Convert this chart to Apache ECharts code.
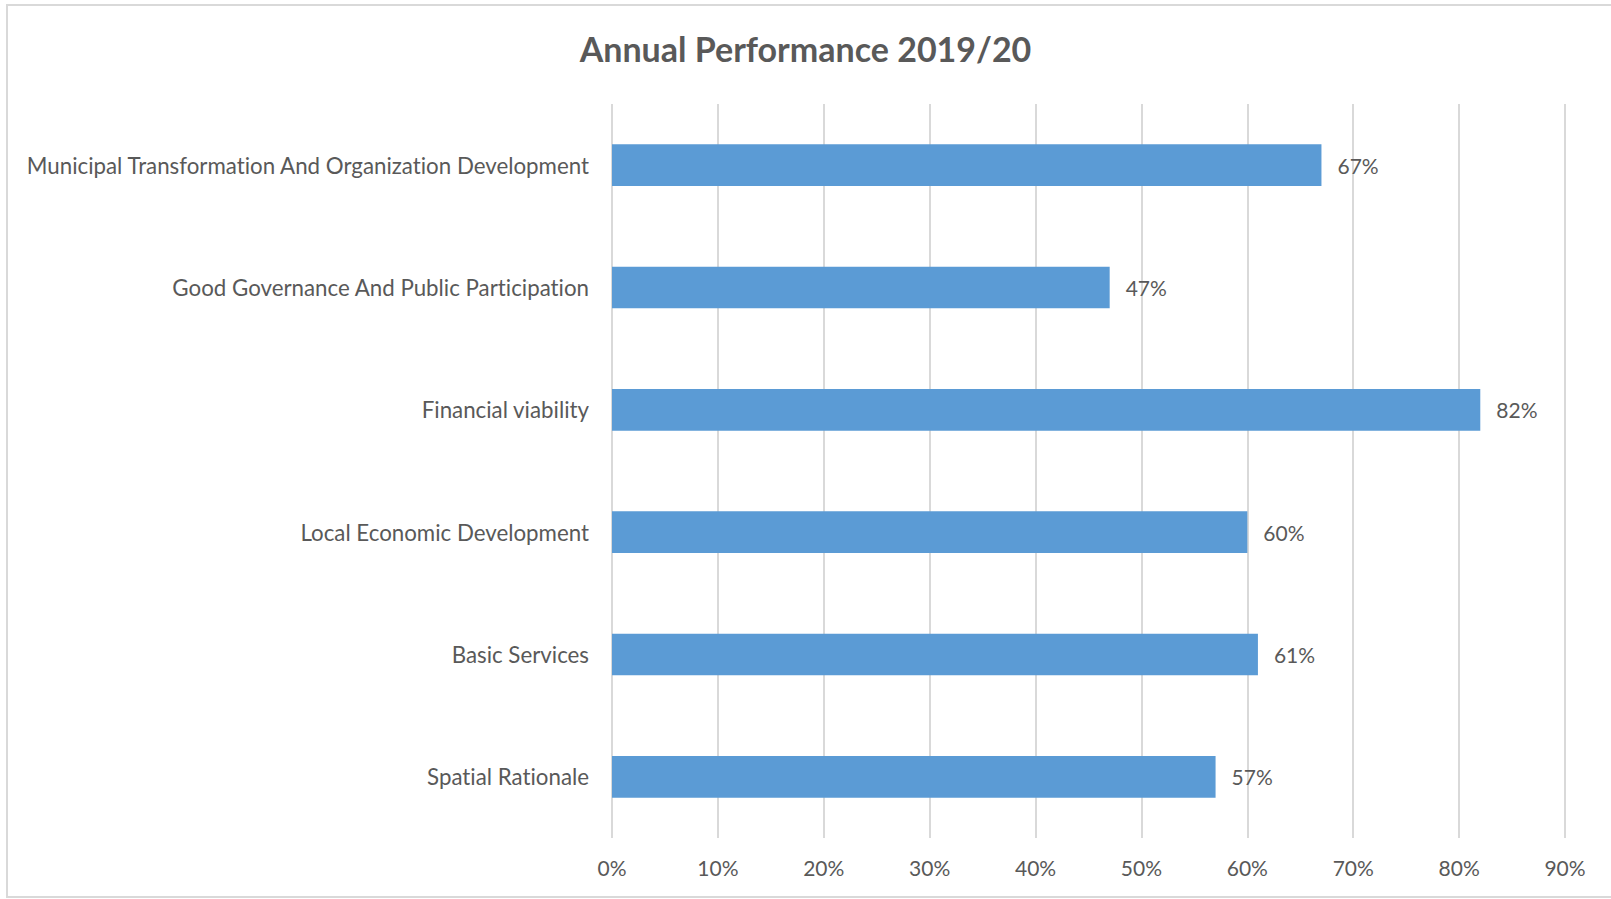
<!DOCTYPE html>
<html>
<head>
<meta charset="utf-8">
<script src="https://cdn.jsdelivr.net/npm/echarts@6/dist/echarts.min.js"></script>
<style>
  html, body { margin: 0; padding: 0; background: #fff; }
  #chart { width: 1611px; height: 899px; }
  #chart text { font-variant-ligatures: none; }
</style>
</head>
<body>
<div id="chart"></div>
<script>
// Key performance areas, listed top to bottom
const categories = [
  'Municipal Transformation And Organization Development',
  'Good Governance And Public Participation',
  'Financial viability',
  'Local Economic Development',
  'Basic Services',
  'Spatial Rationale'
];
// Achievement per area, in percent
const performance = [67, 47, 82, 60, 61, 57];
// Percentage axis
const axisMin = 0;
const axisMax = 90;
const axisStep = 10;

const textColor = '#595959';
const font = 'Lato';

const chart = echarts.init(document.getElementById('chart'), null, { renderer: 'svg' });
chart.setOption({
  backgroundColor: '#ffffff',
  animation: false,
  textStyle: { fontFamily: font },
  title: {
    text: 'Annual Performance 2019/20',
    left: 'center',
    top: 26,
    textStyle: { fontFamily: font, fontSize: 34, fontWeight: 'bold', color: textColor }
  },
  graphic: [{
    type: 'rect',
    shape: { x: 7, y: 5, width: 1620, height: 892 },
    style: { fill: 'none', stroke: '#d9d9d9', lineWidth: 2 },
    silent: true,
    z: -1
  }],
  grid: { left: 612, right: 46, top: 104, bottom: 61, containLabel: false },
  xAxis: {
    type: 'value',
    min: axisMin,
    max: axisMax,
    interval: axisStep,
    axisLine: { show: false },
    axisTick: { show: false },
    axisLabel: {
      formatter: '{value}%',
      color: textColor,
      fontSize: 21,
      fontFamily: font,
      margin: 19
    },
    splitLine: { show: true, lineStyle: { color: '#d9d9d9', width: 2 } }
  },
  yAxis: {
    type: 'category',
    data: categories,
    inverse: true,
    axisLine: { show: false },
    axisTick: { show: false },
    axisLabel: {
      color: textColor,
      fontSize: 22.3,
      fontFamily: font,
      margin: 23
    }
  },
  series: [{
    type: 'bar',
    data: performance,
    barWidth: '34%',
    itemStyle: { color: '#5b9bd5' },
    label: {
      show: true,
      position: 'right',
      distance: 16,
      formatter: '{c}%',
      color: textColor,
      fontSize: 21,
      fontFamily: font
    }
  }]
});
</script>
</body>
</html>
